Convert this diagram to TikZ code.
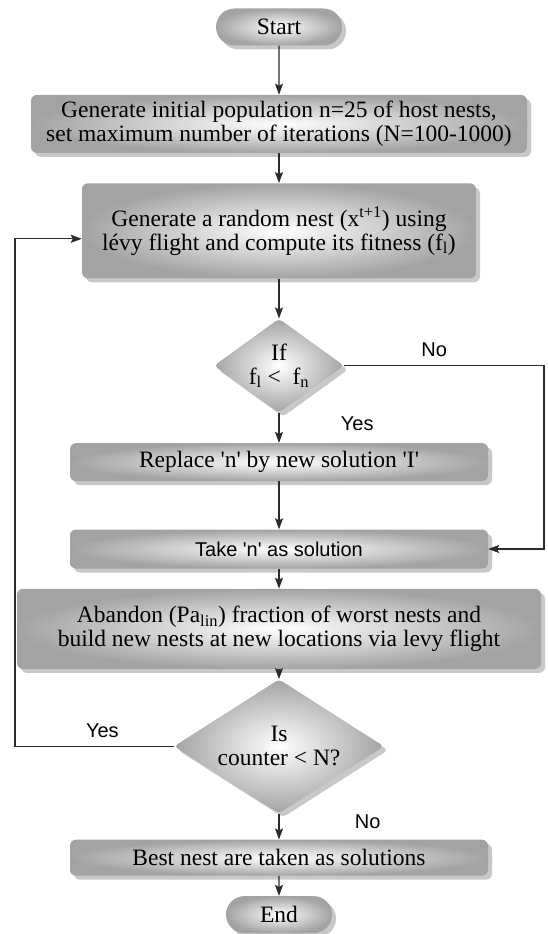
\documentclass[tikz,border=0pt]{standalone}
\usepackage{fontspec}
\setmainfont{Liberation Serif}
\newfontfamily\arialfont{Liberation Sans}
\usetikzlibrary{arrows.meta,positioning,shapes.geometric,shapes.misc,shadows}
\definecolor{boxgray}{HTML}{A3A3A3}
\definecolor{shadowgray}{HTML}{C8C8C8}
\definecolor{linegray}{HTML}{2B2B2B}

\begin{document}
\begin{tikzpicture}[
  x=1pt, y=1pt,
  font=\fontsize{23.5}{24}\selectfont,
  base/.style={shade, inner color=white, outer color=boxgray, inner sep=3pt, align=center,
    drop shadow={shadow xshift=4pt, shadow yshift=-4pt, fill=shadowgray, opacity=1}},
  block/.style={base, rectangle, rounded corners=6pt},
  term/.style={base, rounded rectangle, minimum height=37pt},
  decision/.style={base, diamond, rounded corners=4pt, inner sep=0pt},
  arrow/.style={-{Stealth[length=11pt,width=8pt,inset=2pt]}, draw=linegray, line width=1.1pt},
  lbl/.style={font=\arialfont\fontsize{20}{22}\selectfont}
]
\useasboundingbox (0,0) rectangle (547,-934);
\coordinate (loopL) at (15,0);
\coordinate (loopR) at (544,0);

\node[term, minimum width=132pt] (start) at (279,-27) {Start};
\node[block, below=49pt of start, minimum width=496pt, minimum height=58pt] (init) {Generate initial population n=25 of host nests,\\ set maximum number of iterations (N=100-1000)};
\node[block, below=30pt of init, minimum width=394pt, minimum height=95pt] (newnest) {Generate a random nest (x\textsuperscript{t+1}) using\\ lévy flight and compute its fitness (f\textsubscript{l})};
\node[decision, aspect=1.38, minimum width=130pt, minimum height=94pt, below=40pt of newnest] (cmp) {If\\ f\textsubscript{l} <~ f\textsubscript{n}};
\node[block, below=30pt of cmp, minimum width=418pt, minimum height=38pt] (replace) {Replace \textquotesingle n\textquotesingle{} by new solution \textquotesingle I\textquotesingle};
\node[block, below=48pt of replace, minimum width=418pt, minimum height=39pt, font=\arialfont\fontsize{20}{22}\selectfont] (take) {Take \textquotesingle n\textquotesingle{} as solution};
\node[block, below=20pt of take, minimum width=524pt, minimum height=80pt] (abandon) {Abandon (Pa\textsubscript{lin}) fraction of worst nests and\\ build new nests at new locations via levy flight};
\node[decision, aspect=1.567, minimum width=210pt, minimum height=134pt, below=10pt of abandon] (check) {Is\\ counter < N?};
\node[block, below=26pt of check, minimum width=418pt, minimum height=36pt] (best) {Best nest are taken as solutions};
\node[term, minimum width=112pt, below=20pt of best] (stop) {End};

\draw[arrow] (start) -- (init);
\draw[arrow] (init) -- (newnest);
\draw[arrow] (newnest) -- (cmp);
\draw[arrow] (cmp) -- node[lbl, pos=0.35, right=58pt]{Yes} (replace);
\draw[arrow] (replace) -- (take);
\draw[arrow] (cmp.east) -- node[lbl, pos=0.45, above=5pt]{No} (cmp.east -| loopR) |- (take.east);
\draw[arrow] (take) -- (abandon);
\draw[arrow] (abandon) -- (check);
\draw[arrow] (check.west) -- node[lbl, pos=0.45, above=5pt]{Yes} (check.west -| loopL) |- ([yshift=-8pt]newnest.west);
\draw[arrow] (check) -- node[lbl, pos=0.3, right=72pt]{No} (best);
\draw[arrow] (best) -- (stop);
\end{tikzpicture}
\end{document}
